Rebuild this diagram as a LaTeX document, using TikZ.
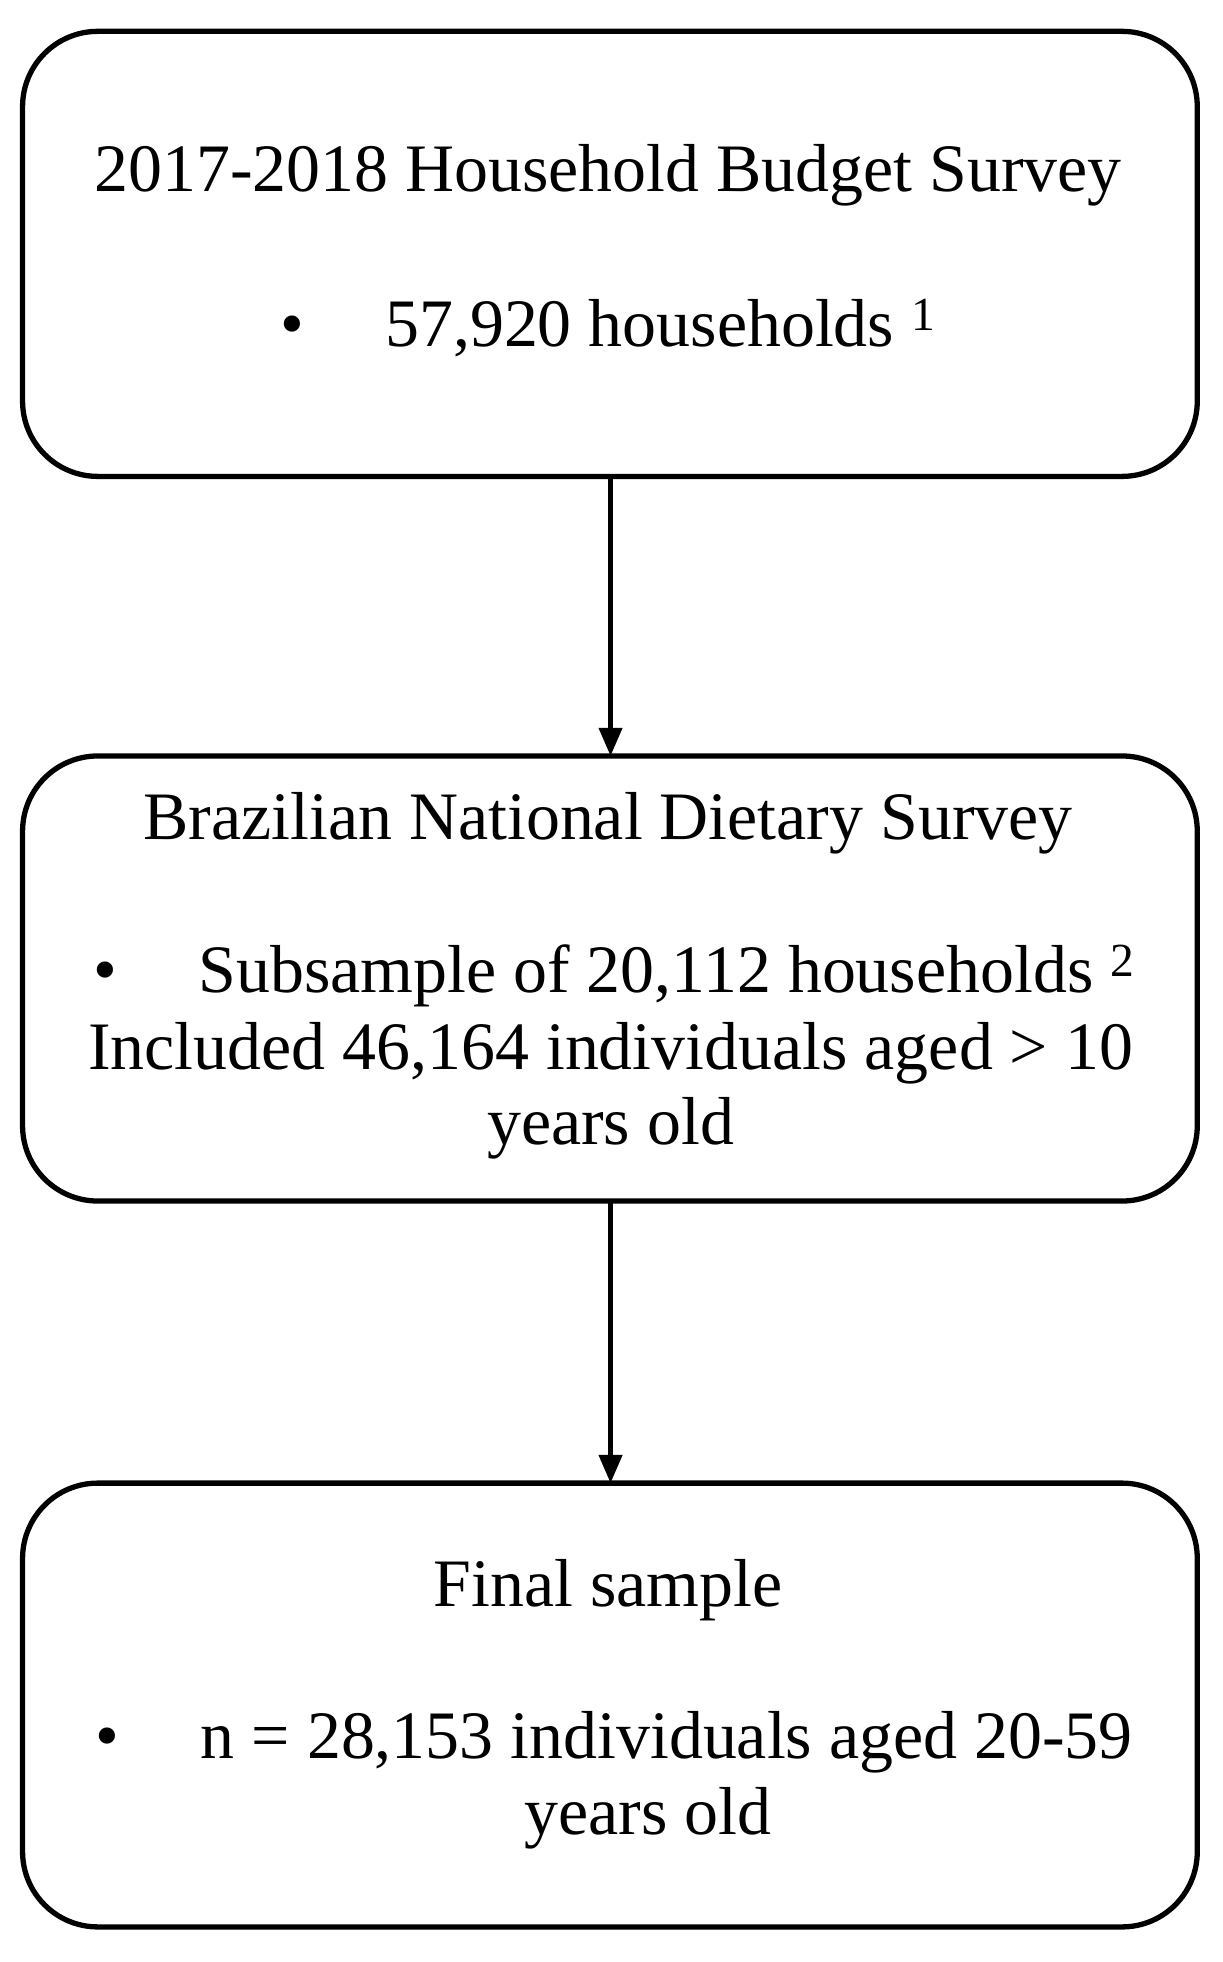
\documentclass[tikz,border=0pt]{standalone}
\usepackage{fontspec}
\setmainfont{Liberation Serif}
\usetikzlibrary{arrows.meta}
\begin{document}
\begin{tikzpicture}[x=0.025cm,y=-0.025cm,
  boxx/.style={draw,line width=3pt,rounded corners=1.5cm},
  txt/.style={font=\fontsize{38.5}{44}\selectfont,inner sep=0pt,anchor=center},
  arr/.style={line width=2.6pt,-{Triangle[length=16pt,width=13pt]}}]
\useasboundingbox (0,0) rectangle (975,1565);
\draw[boxx] (18,25) rectangle (955,380);
\draw[boxx] (18,603) rectangle (955,958);
\draw[boxx] (18,1183) rectangle (955,1537);
\coordinate (b1) at (487,380); \coordinate (t2) at (487,603);
\coordinate (b2) at (487,958); \coordinate (t3) at (487,1183);
\draw[arr] (b1) -- (t2);
\draw[arr] (b2) -- (t3);
\node[txt] (a1) at (485,140) {2017-2018 Household Budget Survey};
\node[txt] (a2) at (485,262) {•\hspace{1.2em}57,920 households \textsuperscript{1}};
\node[txt] (c1) at (485,657) {Brazilian National Dietary Survey};
\node[txt] (c2) at (490,778) {•\hspace{1.2em}Subsample of 20,112 households \textsuperscript{2}};
\node[txt] (c3) at (487,840) {Included 46,164 individuals aged > 10};
\node[txt] (c4) at (487,900) {years old};
\node[txt] (d1) at (485,1268) {Final sample};
\node[txt] (d2) at (490,1390) {•\hspace{1.2em}n = 28,153 individuals aged 20-59};
\node[txt] (d3) at (517,1450) {years old};
\end{tikzpicture}
\end{document}
